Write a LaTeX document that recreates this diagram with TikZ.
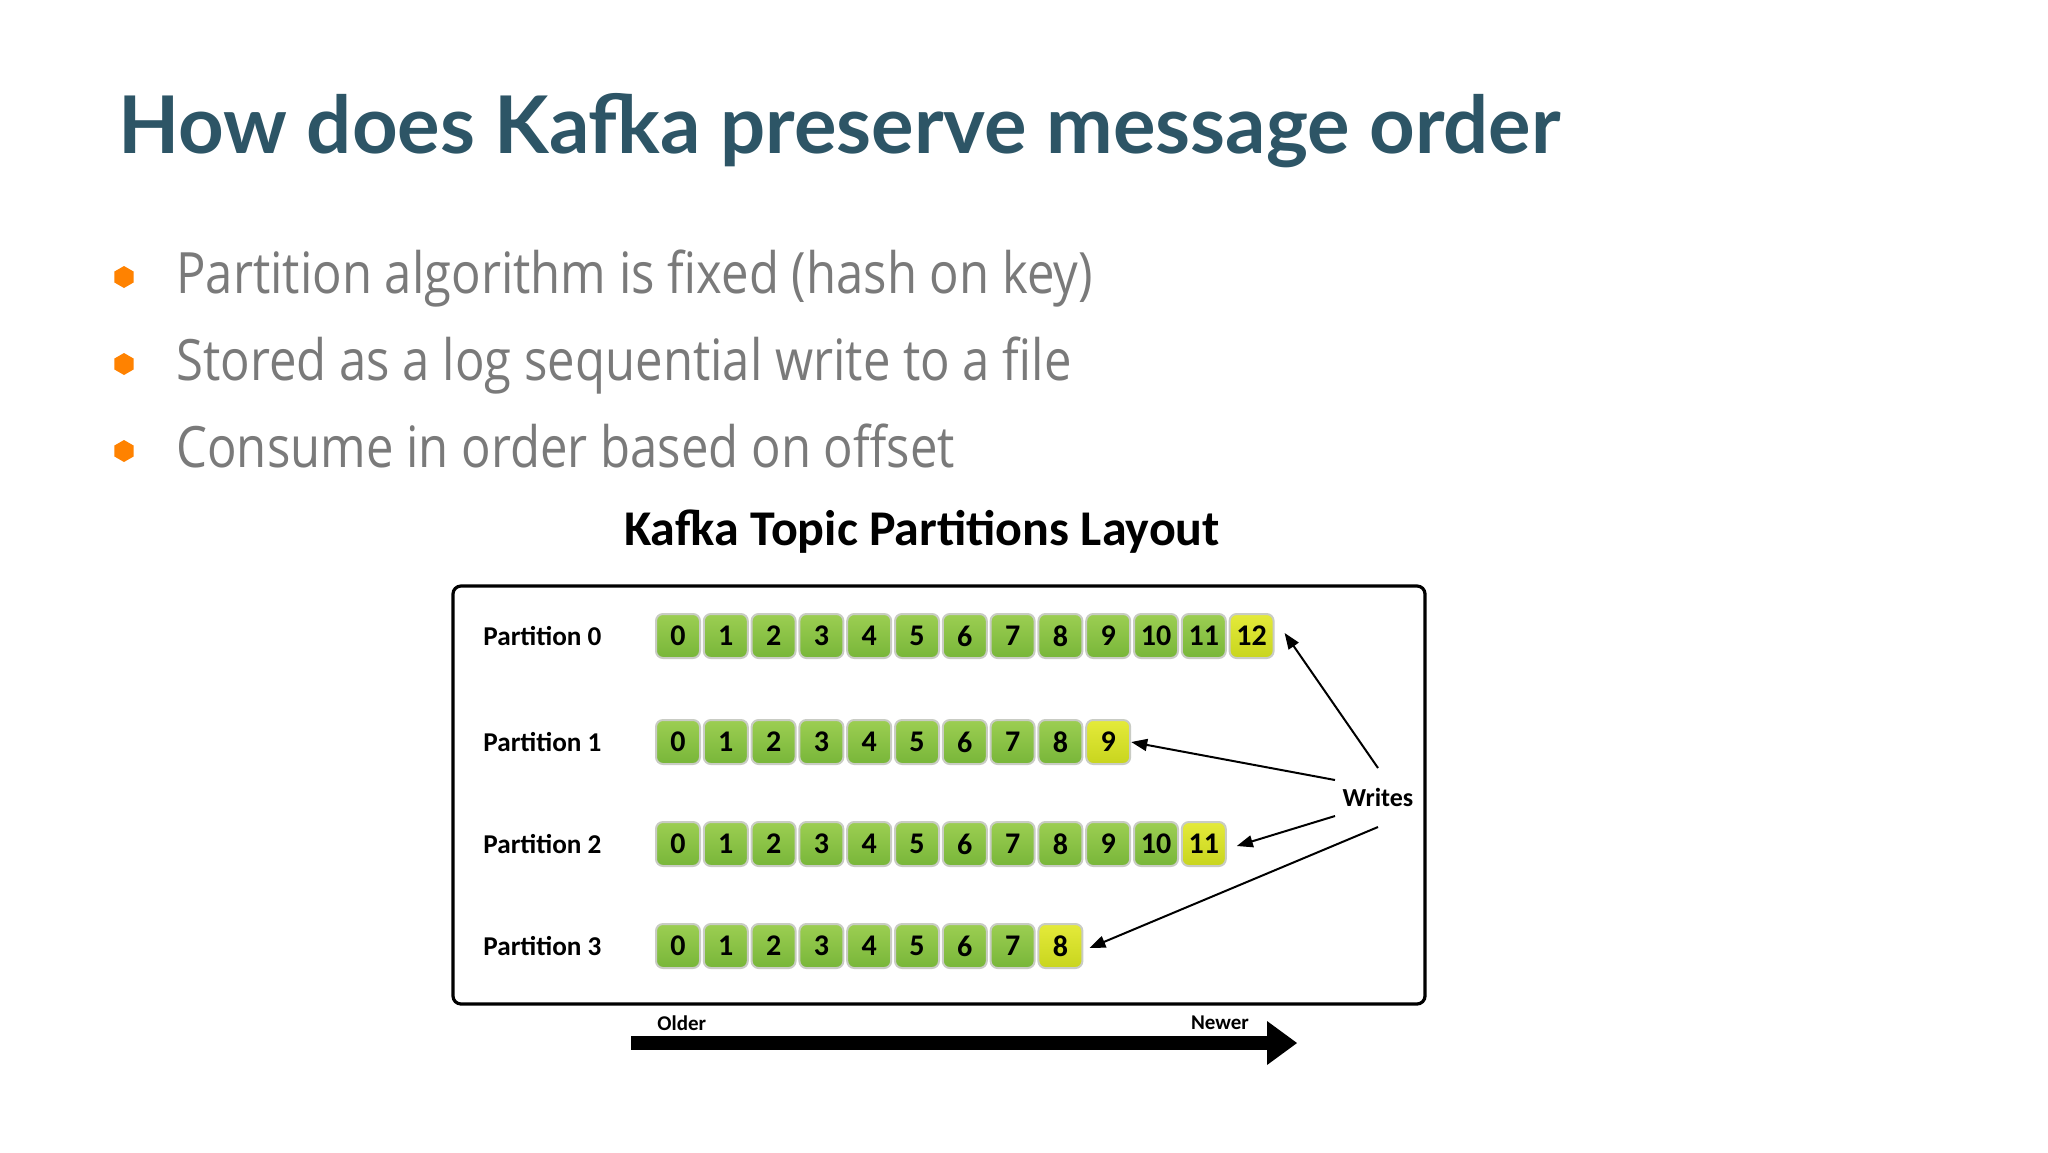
\documentclass[tikz,border=0pt]{standalone}
\usepackage{fontspec}
\usetikzlibrary{arrows.meta,shapes.geometric}
\newfontfamily\titlefont{Lato}
\newfontfamily\bulletfont{Open Sans}[FakeStretch=0.86]
\newfontfamily\diafont{Carlito}
\definecolor{titlecol}{HTML}{2D5566}
\definecolor{bulletcol}{HTML}{7A7A7A}
\definecolor{hexcol}{HTML}{FF8200}
\definecolor{cellborder}{HTML}{C9CCC4}
\definecolor{greentop}{HTML}{9CCE52}
\definecolor{greenbot}{HTML}{78B639}
\definecolor{yeltop}{HTML}{E4EA3A}
\definecolor{yelbot}{HTML}{C8D51E}
\tikzset{
  titletext/.style={anchor=base west, inner sep=0pt, text=titlecol, font=\titlefont\bfseries\fontsize{39.8}{44}\selectfont},
  bullettext/.style={anchor=base west, inner sep=0pt, text=bulletcol, font=\bulletfont\fontsize{28.5}{32}\selectfont},
  hexbullet/.style={regular polygon, regular polygon sides=6, shape border rotate=30, fill=hexcol, inner sep=0pt, minimum size=11pt},
  diatitle/.style={inner sep=0pt, font=\diafont\bfseries\fontsize{25}{28}\selectfont},
  plabel/.style={anchor=west, inner sep=0pt, font=\diafont\bfseries\fontsize{13.6}{15}\selectfont},
  oldcell/.style={draw=cellborder, line width=1pt, rounded corners=3.5pt, minimum size=22pt, inner sep=0pt, top color=greentop, bottom color=greenbot, font=\diafont\bfseries\fontsize{15}{16}\selectfont},
  newcell/.style={oldcell, top color=yeltop, bottom color=yelbot},
  wr/.style={line width=1pt, -{Triangle[length=8pt,width=6pt]}},
  small/.style={inner sep=0pt, font=\diafont\bfseries\fontsize{10.5}{12}\selectfont},
}
\begin{document}
\begin{tikzpicture}[x=0.5pt,y=-0.5pt]
\useasboundingbox (0,0) rectangle (2048,1152);
\fill[white] (0,0) rectangle (2048,1152);

\node[titletext] (title) at (118,153) {How does Kafka preserve message order};

\node[hexbullet] (h1) at (124,277) {};
\node[hexbullet] (h2) at (124,364) {};
\node[hexbullet] (h3) at (124,451) {};
\node[bullettext] (b1) at (176,293) {Partition algorithm is fixed (hash on key)};
\node[bullettext] (b2) at (176,380) {Stored as a log sequential write to a file};
\node[bullettext] (b3) at (176,467) {Consume in order based on offset};

\node[diatitle] (dt) at (922,532) {Kafka Topic Partitions Layout};

\node[draw, line width=1.6pt, rounded corners=4pt, minimum width=486pt, minimum height=209pt, inner sep=0pt] (frame) at (939,795) {};

\foreach \r/\last/\y in {0/12/636,1/9/742,2/11/844,3/8/946} {
  \node[plabel] (pl\r) at (483,\y) {Partition \r};
  \foreach \i in {0,...,\last} {
    \ifnum\i=\last\def\cs{newcell}\else\def\cs{oldcell}\fi
    \node[\cs] (c\r-\i) at (678+47.8*\i,\y) {\i};
  }
}

\node[diatitle, font=\diafont\bfseries\fontsize{13}{14}\selectfont] (writes) at (1378,797) {Writes};
\coordinate (w0) at (1378,768);
\coordinate (w1) at (1335,780);
\coordinate (w2) at (1335,816);
\coordinate (w3) at (1378,827);
\draw[wr] (w0) -- ([xshift=5pt,yshift=1.5pt]c0-12.east);
\draw[wr] (w1) -- ([xshift=0pt]c1-9.east);
\draw[wr] (w2) -- ([xshift=5pt,yshift=-1pt]c2-11.east);
\draw[wr] (w3) -- ([xshift=3pt,yshift=-1pt]c3-8.east);

\node[small, anchor=west] (older) at (657,1023) {Older};
\node[small] (newer) at (1220,1023) {Newer};
\coordinate (ta) at (631,1043);
\coordinate (tb) at (1267,1043);
\coordinate (tc) at (1297,1043);
\fill[black] ([yshift=3.5pt]ta) rectangle ([yshift=-3.5pt]tb);
\fill[black] ([yshift=11pt]tb) -- (tc) -- ([yshift=-11pt]tb) -- cycle;
\end{tikzpicture}
\end{document}
